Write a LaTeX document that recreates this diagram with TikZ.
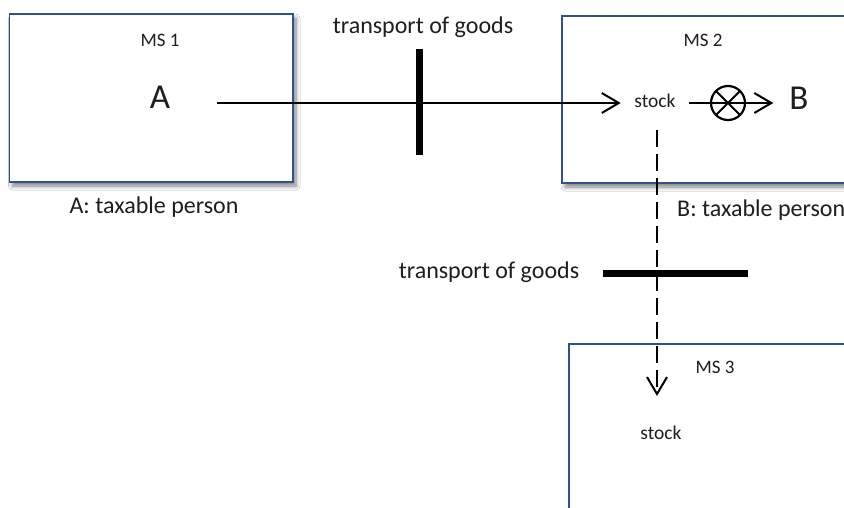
\documentclass[tikz,border=0pt]{standalone}
\usepackage{fontspec}
\setmainfont{Carlito}
\usetikzlibrary{arrows.meta,shadows.blur}
\definecolor{boxblue}{RGB}{47,82,143}
\definecolor{txtgray}{RGB}{30,30,30}
\tikzset{
  msbox/.style={draw=boxblue, line width=1.3pt, fill=white, rectangle, inner sep=0pt},
  shadowed/.style={blur shadow={shadow xshift=3pt, shadow yshift=-4pt, shadow blur steps=6, shadow blur radius=4pt, shadow opacity=50}},
  mslabel/.style={font=\fontsize{19}{22}\selectfont, text=txtgray, anchor=base, inner sep=0pt},
  stocklabel/.style={font=\fontsize{19.5}{22}\selectfont, text=txtgray, anchor=base, inner ysep=0pt},
  biglabel/.style={font=\fontsize{35}{40}\selectfont, text=txtgray, anchor=base, inner ysep=0pt},
  txt/.style={font=\fontsize{24}{28}\selectfont, text=txtgray, anchor=base, inner sep=0pt},
  conn/.style={line width=2pt, -{Straight Barb[length=17pt,width=20pt]}},
  dconn/.style={conn, dash pattern=on 17pt off 7pt},
  bar/.style={fill=black, inner sep=0pt, draw=none, rectangle},
  xcircle/.style={draw, circle, line width=2.2pt, minimum size=34pt, inner sep=0pt,
    path picture={\draw[line width=2pt]
      (path picture bounding box.north west) -- (path picture bounding box.south east)
      (path picture bounding box.north east) -- (path picture bounding box.south west);}},
}
\begin{document}
\begin{tikzpicture}[x=1pt,y=-1pt]
\clip (0,0) rectangle (844,507);
\fill[white] (0,0) rectangle (844,507);

% boxes
\node[msbox, shadowed, minimum width=283.5pt, minimum height=168pt] (ms1box) at (151.25,98) {};
\node[msbox, shadowed, minimum width=438pt, minimum height=167pt] (ms2box) at (781,99.5) {};
\node[msbox, minimum width=431pt, minimum height=256pt] (ms3box) at (784.5,472) {};

% labels
\node[mslabel] (ms1) at (160,46) {MS 1};
\node[mslabel] (ms2) at (703,46) {MS 2};
\node[mslabel] (ms3) at (715,373) {MS 3};
\node[biglabel, inner xsep=0pt] (A) at (160,108) {A};
\node[biglabel, inner xsep=16pt] (B) at (799,109) {B};
\node[stocklabel, inner xsep=13.5pt] (stock2) at (655,107) {stock};
\node[stocklabel] (stock3) at (661,439) {stock};
\node[txt] (taxA) at (154,213) {A: taxable person};
\node[txt, anchor=base west] (taxB) at (677,216) {B: taxable person};
\node[txt] (tog1) at (423,33) {transport of goods};
\node[txt] (tog2) at (489,278) {transport of goods};

% bars
\node[bar, minimum width=7pt, minimum height=106pt] (bar1) at (419,102) {};
\node[bar, minimum width=145pt, minimum height=7pt] (bar2) at (675.5,273) {};

% circle with cross
\node[xcircle] (cross) at (728,103) {};

% connectors
\coordinate (a1) at (217,103);
\draw[conn] (a1) -- (stock2.west |- a1);
\draw[conn] (stock2.east |- a1) -- (B.west |- a1);
\coordinate (d1) at (657,130);
\coordinate (d2) at (657,396);
\draw[dconn] (d1) -- (d2);
\end{tikzpicture}
\end{document}
